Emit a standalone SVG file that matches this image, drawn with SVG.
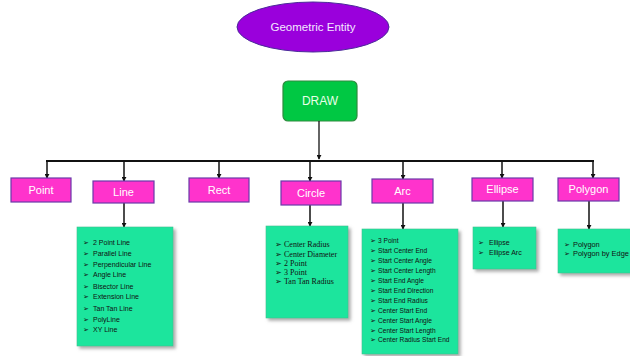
<svg xmlns="http://www.w3.org/2000/svg" width="630" height="356" viewBox="0 0 630 356">
<style>
.hd{fill:#ff33cc;stroke:#6a3aa8;stroke-width:1.2}
.ht{font-family:"Liberation Sans",Arial,sans-serif;font-size:11px;fill:#ffffff;text-anchor:middle}
.lst{fill:#1fe59d;stroke:#3fbf8f;stroke-width:0.6;filter:url(#sh)}
.li{font-family:"Liberation Sans",Arial,sans-serif;font-size:7px;fill:#111}
.lis{font-family:"Liberation Serif","Times New Roman",serif;font-size:8px;fill:#111}
.ln{stroke:#111;fill:none}
</style>
<defs>
<marker id="ah" viewBox="0 0 6 6" refX="5" refY="3" markerWidth="5" markerHeight="5" orient="auto" markerUnits="userSpaceOnUse">
<path d="M0,0 L6,3 L0,6 z" fill="#111"/>
</marker>
<filter id="sh" x="-10%" y="-10%" width="130%" height="130%">
<feDropShadow dx="2.5" dy="2.5" stdDeviation="1.5" flood-color="#777" flood-opacity="0.6"/>
</filter>
</defs>

<g id="geometric-entity">
<ellipse cx="313" cy="27" rx="76" ry="25" fill="#9a00dc" stroke="#4b2a9a" stroke-width="1"/>
<text x="313" y="31" font-family="Liberation Sans,Arial,sans-serif" font-size="11.5" fill="#f4e8ff" text-anchor="middle">Geometric Entity</text>
</g>

<g id="draw">
<rect x="283" y="81" width="74" height="40" rx="5" fill="#00c843" stroke="#2e8b3e" stroke-width="1.2"/>
<text x="320" y="105" font-family="Liberation Sans,Arial,sans-serif" font-size="12" fill="#e8ffe8" text-anchor="middle">DRAW</text>
</g>

<g id="connectors" class="ln">
<line x1="319" y1="121" x2="319" y2="159" stroke-width="1.3" marker-end="url(#ah)"/>
<line x1="46" y1="161" x2="594" y2="161" stroke-width="2"/>
<line x1="47" y1="161" x2="47" y2="178" stroke-width="1.5" marker-end="url(#ah)"/>
<line x1="124" y1="161" x2="124" y2="181" stroke-width="1.5" marker-end="url(#ah)"/>
<line x1="219" y1="161" x2="219" y2="178" stroke-width="1.5" marker-end="url(#ah)"/>
<line x1="310" y1="161" x2="310" y2="181" stroke-width="1.5" marker-end="url(#ah)"/>
<line x1="403" y1="161" x2="403" y2="179" stroke-width="1.5" marker-end="url(#ah)"/>
<line x1="502" y1="161" x2="502" y2="178" stroke-width="1.5" marker-end="url(#ah)"/>
<line x1="593" y1="161" x2="593" y2="178" stroke-width="1.5" marker-end="url(#ah)"/>
<line x1="124" y1="203" x2="124" y2="227" stroke-width="1.5" marker-end="url(#ah)"/>
<line x1="310" y1="205" x2="310" y2="226" stroke-width="1.5" marker-end="url(#ah)"/>
<line x1="403" y1="203" x2="403" y2="229" stroke-width="1.5" marker-end="url(#ah)"/>
<line x1="503" y1="201" x2="503" y2="227" stroke-width="1.5" marker-end="url(#ah)"/>
<line x1="589" y1="201" x2="589" y2="229" stroke-width="1.5" marker-end="url(#ah)"/>
</g>

<g id="point"><rect class="hd" x="11" y="178" width="60" height="24"/><text class="ht" x="41" y="194">Point</text></g>
<g id="line"><rect class="hd" x="93" y="181" width="61" height="22"/><text class="ht" x="123.5" y="196">Line</text></g>
<g id="rect"><rect class="hd" x="189" y="178" width="60" height="24"/><text class="ht" x="219" y="194">Rect</text></g>
<g id="circle"><rect class="hd" x="281" y="181" width="60" height="24"/><text class="ht" x="311" y="197">Circle</text></g>
<g id="arc"><rect class="hd" x="372" y="179" width="61" height="24"/><text class="ht" x="402.5" y="195">Arc</text></g>
<g id="ellipse"><rect class="hd" x="472" y="178" width="61" height="23"/><text class="ht" x="502.5" y="193">Ellipse</text></g>
<g id="polygon"><rect class="hd" x="558" y="178" width="61" height="23"/><text class="ht" x="588.5" y="193">Polygon</text></g>

<g id="line-list">
<rect class="lst" x="77" y="227" width="96" height="119"/>
<g class="li">
<text x="83" y="244.5">➢</text><text x="93" y="244.5">2 Point Line</text>
<text x="83" y="255.5">➢</text><text x="93" y="255.5">Parallel Line</text>
<text x="83" y="266.5">➢</text><text x="93" y="266.5">Perpendicular Line</text>
<text x="83" y="277">➢</text><text x="93" y="277">Angle Line</text>
<text x="83" y="288.5">➢</text><text x="93" y="288.5">Bisector Line</text>
<text x="83" y="299">➢</text><text x="93" y="299">Extension Line</text>
<text x="83" y="310.5">➢</text><text x="93" y="310.5">Tan Tan Line</text>
<text x="83" y="321.5">➢</text><text x="93" y="321.5">PolyLine</text>
<text x="83" y="332">➢</text><text x="93" y="332">XY Line</text>
</g>
</g>

<g id="circle-list">
<rect class="lst" x="266" y="226" width="82" height="92"/>
<g class="lis">
<text x="275" y="247">➢</text><text x="284" y="247">Center Radius</text>
<text x="275" y="257">➢</text><text x="284" y="257">Center Diameter</text>
<text x="275" y="266">➢</text><text x="284" y="266">2 Point</text>
<text x="275" y="275">➢</text><text x="284" y="275">3 Point</text>
<text x="275" y="284">➢</text><text x="284" y="284">Tan Tan Radius</text>
</g>
</g>

<g id="arc-list">
<rect class="lst" x="362" y="229" width="96" height="125"/>
<g class="li" style="font-size:6.6px">
<text x="370" y="242.5">➢</text><text x="378" y="242.5">3 Point</text>
<text x="370" y="252.5">➢</text><text x="378" y="252.5">Start Center End</text>
<text x="370" y="262.5">➢</text><text x="378" y="262.5">Start Center Angle</text>
<text x="370" y="273">➢</text><text x="378" y="273">Start Center Length</text>
<text x="370" y="283">➢</text><text x="378" y="283">Start End Angle</text>
<text x="370" y="293">➢</text><text x="378" y="293">Start End Direction</text>
<text x="370" y="303">➢</text><text x="378" y="303">Start End Radius</text>
<text x="370" y="312.5">➢</text><text x="378" y="312.5">Center Start End</text>
<text x="370" y="322.5">➢</text><text x="378" y="322.5">Center Start Angle</text>
<text x="370" y="332.5">➢</text><text x="378" y="332.5">Center Start Length</text>
<text x="370" y="341.5">➢</text><text x="378" y="341.5">Center Radius Start End</text>
</g>
</g>

<g id="ellipse-list">
<rect class="lst" x="473" y="227" width="63" height="42"/>
<g class="li">
<text x="478" y="244.5">➢</text><text x="489" y="244.5">Ellipse</text>
<text x="478" y="254.5">➢</text><text x="489" y="254.5">Ellipse Arc</text>
</g>
</g>

<g id="polygon-list">
<rect class="lst" x="558" y="229" width="76" height="44"/>
<g class="li" style="font-size:7.4px">
<text x="564" y="246.5">➢</text><text x="573" y="246.5">Polygon</text>
<text x="564" y="255.5">➢</text><text x="573" y="255.5">Polygon by Edge</text>
</g>
</g>
</svg>
